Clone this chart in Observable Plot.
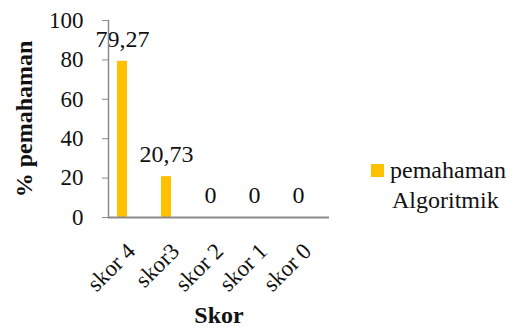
<!DOCTYPE html>
<html>
<head>
<meta charset="utf-8">
<script src="https://cdn.jsdelivr.net/npm/d3@7"></script>
<script src="https://cdn.jsdelivr.net/npm/@observablehq/plot@0.6"></script>
<style>
  html, body { margin: 0; padding: 0; background: #fff; }
  #wrap { position: relative; width: 521px; height: 335px; font-family: "Liberation Serif", "Times New Roman", serif; }
  #legend { position: absolute; left: 371px; top: 155px; font-size: 24px; line-height: 30px; color: #111; }
  #legend .swatch { display: inline-block; width: 13px; height: 13px; background: #FFC000; margin-right: 6px; vertical-align: 1px; }
  #legend .second { padding-left: 21px; }
</style>
</head>
<body>
<div id="wrap">
  <div id="chart"></div>
  <div id="legend"><span class="swatch"></span>pemahaman<br><span class="second">Algoritmik</span></div>
</div>
<script>
// Score categories and the share of students (%) in each
const categories = ["skor 4", "skor3", "skor 2", "skor 1", "skor 0"];
const values = [79.27, 20.73, 0, 0, 0];
const valueLabels = ["79,27", "20,73", "0", "0", "0"];
const yTicks = [0, 20, 40, 60, 80, 100];
const seriesName = "pemahaman Algoritmik";
const barColor = "#FFC000";

const data = categories.map((c, i) => ({skor: c, value: values[i], label: valueLabels[i]}));

const font = "Liberation Serif, Times New Roman, serif";
const axisGray = "#8c8c8c";

const chart = Plot.plot({
  width: 521,
  height: 335,
  marginLeft: 108,
  marginRight: 192,
  marginTop: 20,
  marginBottom: 118,
  style: {fontFamily: font, fontSize: "23px", color: "#111", background: "#fff"},
  x: {domain: categories, padding: 0},
  y: {domain: [0, 100]},
  marks: [
    Plot.barY(data, {x: "skor", y: "value", fill: barColor, insetLeft: 8, insetRight: 26}),
    Plot.text(data, {x: "skor", y: "value", text: "label", dx: -9, dy: -22, fontSize: 24, fill: "#111"}),
    Plot.frame({anchor: "left", stroke: axisGray, strokeWidth: 1.5}),
    Plot.ruleY([0], {stroke: axisGray, strokeWidth: 2}),
    // tick marks on the value axis
    Plot.axisY({ticks: yTicks, tickSize: 6, stroke: axisGray, tickFormat: () => "", label: null}),
    // value axis labels, set back from the ticks
    Plot.axisY({ticks: yTicks, tickSize: 0, dx: -16, fontSize: 23, label: null, tickFormat: d => String(d)}),
    Plot.axisX({tickSize: 0, tickRotate: -45, dy: 18, fontSize: 23, label: null}),
    Plot.text(["% pemahaman"], {frameAnchor: "left", dx: -84, rotate: -90, textAnchor: "middle", fontSize: 24, fontWeight: "bold", fill: "#111"}),
    Plot.text(["Skor"], {frameAnchor: "bottom", dy: 105, fontSize: 24, fontWeight: "bold", fill: "#111"})
  ]
});
chart.setAttribute("aria-label", seriesName);
document.getElementById("chart").appendChild(chart);
</script>
</body>
</html>
